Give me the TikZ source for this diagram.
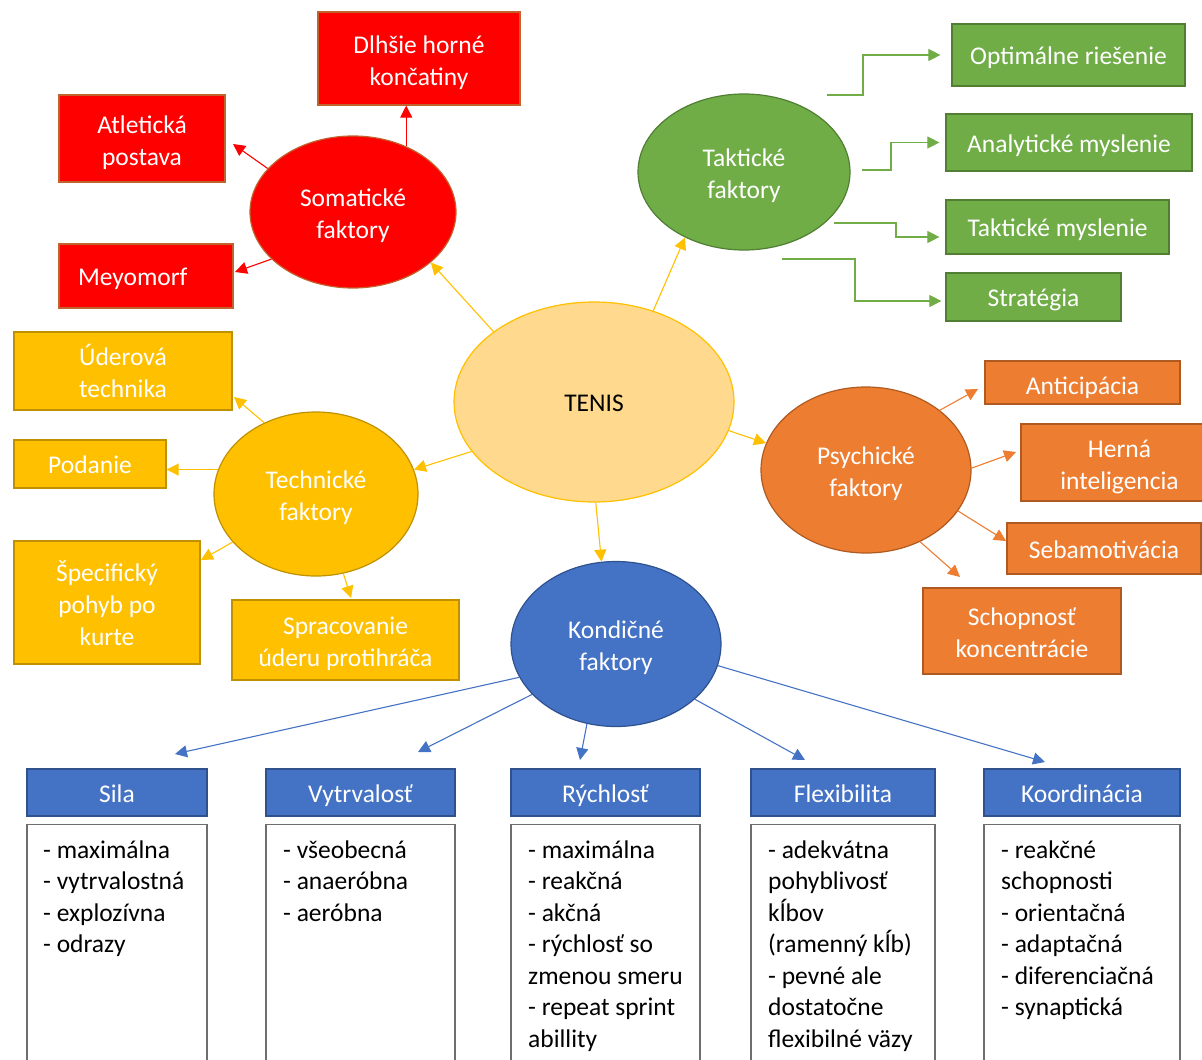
\documentclass[tikz,border=0pt]{standalone}
\usepackage{fontspec}
\setmainfont{Carlito}
\usetikzlibrary{shapes.geometric,arrows.meta}
\definecolor{cRed}{HTML}{FF0000}
\definecolor{cRedB}{HTML}{C0632E}
\definecolor{cYel}{HTML}{FFC000}
\definecolor{cYelB}{HTML}{BF9000}
\definecolor{cTen}{HTML}{FFD98E}
\definecolor{cGrn}{HTML}{70AD47}
\definecolor{cGrnB}{HTML}{507E32}
\definecolor{cOra}{HTML}{ED7D31}
\definecolor{cOraB}{HTML}{AE5A21}
\definecolor{cBlu}{HTML}{4472C4}
\definecolor{cBluB}{HTML}{2F528F}
\definecolor{cList}{HTML}{6E6E6E}
\newcommand{\mlines}[1]{\raisebox{-1pt}[0pt][0pt]{\begin{tabular}{@{}c@{}}#1\end{tabular}}}
\begin{document}
\begin{tikzpicture}[x=1pt,y=-1pt,
  font=\fontsize{25.5}{32}\selectfont,
  strutted/.style={execute at begin node={\rule{0pt}{25pt}}, execute at end node={\rule[-6pt]{0pt}{6pt}}},
  ell/.style={ellipse, inner sep=0pt, line width=1.2pt, align=center, text=white, strutted},
  box/.style={rectangle, inner sep=0pt, line width=1.2pt, align=center, text=white, strutted},
  redbox/.style={box, fill=cRed, draw=cRedB},
  yelbox/.style={box, fill=cYel, draw=cYelB},
  grnbox/.style={box, fill=cGrn, draw=cGrnB},
  orabox/.style={box, fill=cOra, draw=cOraB},
  blubox/.style={box, fill=cBlu, draw=cBluB, minimum height=47},
  listbox/.style={rectangle, inner sep=0pt, line width=1.2pt, draw=cList, fill=white, anchor=north, minimum height=260},
  listtxt/.style={anchor=north west, inner sep=0pt, align=left, text=black, font=\fontsize{25.5}{31.5}\selectfont},
  arr/.style={line width=1.1pt, -{Triangle[length=12pt,width=12pt]}},
  rarr/.style={arr, draw=cRed},
  yarr/.style={arr, draw=cYel},
  garr/.style={arr, draw=cGrn},
  oarr/.style={arr, draw=cOra},
  barr/.style={arr, draw=cBlu},
]
\useasboundingbox (0,0) rectangle (1202,1060);
\clip (0,0) rectangle (1202,1060);

% central
\node[ell, fill=cTen, draw=cYel, text=black, minimum width=280, minimum height=200] (ten) at (594,402) {TENIS};

% ellipses
\node[ell, fill=cRed, draw=cRedB, minimum width=206, minimum height=152] (som) at (353,212) {\mlines{Somatické\\faktory}};
\node[ell, fill=cGrn, draw=cGrnB, minimum width=212, minimum height=156] (tak) at (744,172) {\mlines{Taktické\\faktory}};
\node[ell, fill=cOra, draw=cOraB, minimum width=210, minimum height=166] (psy) at (866,470) {\mlines{Psychické\\faktory}};
\node[ell, fill=cYel, draw=cYelB, minimum width=204, minimum height=164] (tech) at (316,494) {\mlines{Technické\\faktory}};
\node[ell, fill=cBlu, draw=cBluB, minimum width=210, minimum height=165] (kon) at (616,644) {\mlines{Kondičné\\faktory}};

% red boxes
\node[redbox, minimum width=202, minimum height=93] (dl) at (419,58.5) {\mlines{Dlhšie horné\\končatiny}};
\node[redbox, minimum width=166, minimum height=87] (atl) at (142,138.5) {\mlines{Atletická\\postava}};
\node[redbox, text width=136, inner xsep=19pt, align=left, minimum height=64] (mey) at (146,276) {Meyomorf};

% green boxes
\node[grnbox, minimum width=233, minimum height=62] (opt) at (1068.5,55) {Optimálne riešenie};
\node[grnbox, minimum width=246, minimum height=57] (ana) at (1069,142.5) {Analytické myslenie};
\node[grnbox, minimum width=223, minimum height=54] (tm) at (1057.5,227) {Taktické myslenie};
\node[grnbox, minimum width=175, minimum height=48] (str) at (1033.5,297) {Stratégia};

% orange boxes
\node[orabox, minimum width=195, minimum height=43] (ant) at (1082.5,382.5) {\raisebox{-3pt}{Anticipácia}};
\node[orabox, minimum width=197, minimum height=77] (her) at (1119.5,462.5) {\mlines{Herná\\inteligencia}};
\node[orabox, minimum width=194, minimum height=51] (seb) at (1104,548.5) {Sebamotivácia};
\node[orabox, minimum width=198, minimum height=86] (sch) at (1022,631) {\mlines{Schopnosť\\koncentrácie}};

% yellow boxes
\node[yelbox, minimum width=218, minimum height=78] (ude) at (123,371) {\mlines{Úderová\\technika}};
\node[yelbox, minimum width=152, minimum height=48] (pod) at (90,464) {Podanie};
\node[yelbox, minimum width=186, minimum height=123] (spe) at (107,602.5) {\mlines{Špecifický\\pohyb po\\kurte}};
\node[yelbox, minimum width=227, minimum height=80] (spr) at (345.5,640) {\mlines{Spracovanie\\úderu protihráča}};

% blue headers
\node[blubox, minimum width=180] (sila) at (117,792.5) {Sila};
\node[blubox, minimum width=189] (vyt) at (360.5,792.5) {Vytrvalosť};
\node[blubox, minimum width=189] (ryc) at (605.5,792.5) {Rýchlosť};
\node[blubox, minimum width=184] (flex) at (843,792.5) {Flexibilita};
\node[blubox, minimum width=196] (koor) at (1082,792.5) {Koordinácia};

% list boxes
\node[listbox, minimum width=180] (silaB) at (117,824) {};
\node[listbox, minimum width=189] (vytB) at (360.5,824) {};
\node[listbox, minimum width=189] (rycB) at (605.5,824) {};
\node[listbox, minimum width=184] (flexB) at (843,824) {};
\node[listbox, minimum width=196] (koorB) at (1082,824) {};

\node[listtxt] (silaT) at (43,838) {\rule{0pt}{20pt}- maximálna\\- vytrvalostná\\- explozívna\\- odrazy};
\node[listtxt] (vytT) at (283,838) {\rule{0pt}{20pt}- všeobecná\\- anaeróbna\\- aeróbna};
\node[listtxt] (rycT) at (528,838) {\rule{0pt}{20pt}- maximálna\\- reakčná\\- akčná\\- rýchlosť so\\zmenou smeru\\- repeat sprint\\abillity};
\node[listtxt] (flexT) at (768,838) {\rule{0pt}{20pt}- adekvátna\\pohyblivosť\\kĺbov\\(ramenný kĺb)\\- pevné ale\\dostatočne\\flexibilné väzy};
\node[listtxt] (koorT) at (1001,838) {\rule{0pt}{20pt}- reakčné\\schopnosti\\- orientačná\\- adaptačná\\- diferenciačná\\- synaptická};

% arrow tips / free ends
\coordinate (tAtl) at (233,144);
\coordinate (tMey) at (235,272);
\coordinate (tUde) at (234,397);
\coordinate (tSpe) at (201,560);
\coordinate (tSpr) at (351,598);
\coordinate (tAnt) at (978,389);
\coordinate (tHer) at (1016,452);
\coordinate (tSeb) at (1006,541);
\coordinate (tSch) at (960,577);
\coordinate (tSila) at (175,754);
\coordinate (tVyt) at (418,752);
\coordinate (tRyc) at (580,760);
\coordinate (tFlex) at (805,760);
\coordinate (tKoor) at (1045,762);
\coordinate (g1) at (827,95);
\coordinate (g2) at (862,170);
\coordinate (g3) at (834,223);
\coordinate (g4) at (782,259);

% TENIS arrows
\draw[yarr] (ten.145) -- (som.327);
\draw[yarr] (ten.57) -- (tak.228);
\draw[yarr] (ten.202) -- (tech.14);
\draw[yarr] (ten.348) -- (psy.165);
\draw[yarr] (ten.271) -- (kon.100);

% somatic
\draw[rarr] (som.51) -- (som.51 |- dl.south);
\draw[rarr] (som.153) -- (tAtl);
\draw[rarr] (som.210) -- (tMey);

% tactical
\draw[garr] (g1) -- ++(36,0) |- ([xshift=-11pt]opt.west);
\draw[garr] (g2) -- ++(29,0) |- ([xshift=-6pt]ana.west);
\draw[garr] (g3) -- ++(62,0) |- ([shift={(-6pt,-10pt)}]tm.west);
\draw[garr] (g4) -- ++(73,0) |- ([shift={(-4pt,-4pt)}]str.west);

% psychic
\draw[oarr] (psy.39) -- (tAnt);
\draw[oarr] (psy.1) -- (tHer);
\draw[oarr] (psy.336) -- (tSeb);
\draw[oarr] (psy.307) -- (tSch);

% technical
\draw[yarr] (tech.126) -- (tUde);
\draw[yarr] (tech.166) -- (tech.166 -| pod.east);
\draw[yarr] (tech.210) -- (tSpe);
\draw[yarr] (tech.289) -- (tSpr);

% conditional
\draw[barr] (kon.199) -- (tSila);
\draw[barr] (kon.211) -- (tVyt);
\draw[barr] (kon.250) -- (tRyc);
\draw[barr] (kon.325) -- (tFlex);
\draw[barr] (kon.348) -- (tKoor);
\end{tikzpicture}
\end{document}
